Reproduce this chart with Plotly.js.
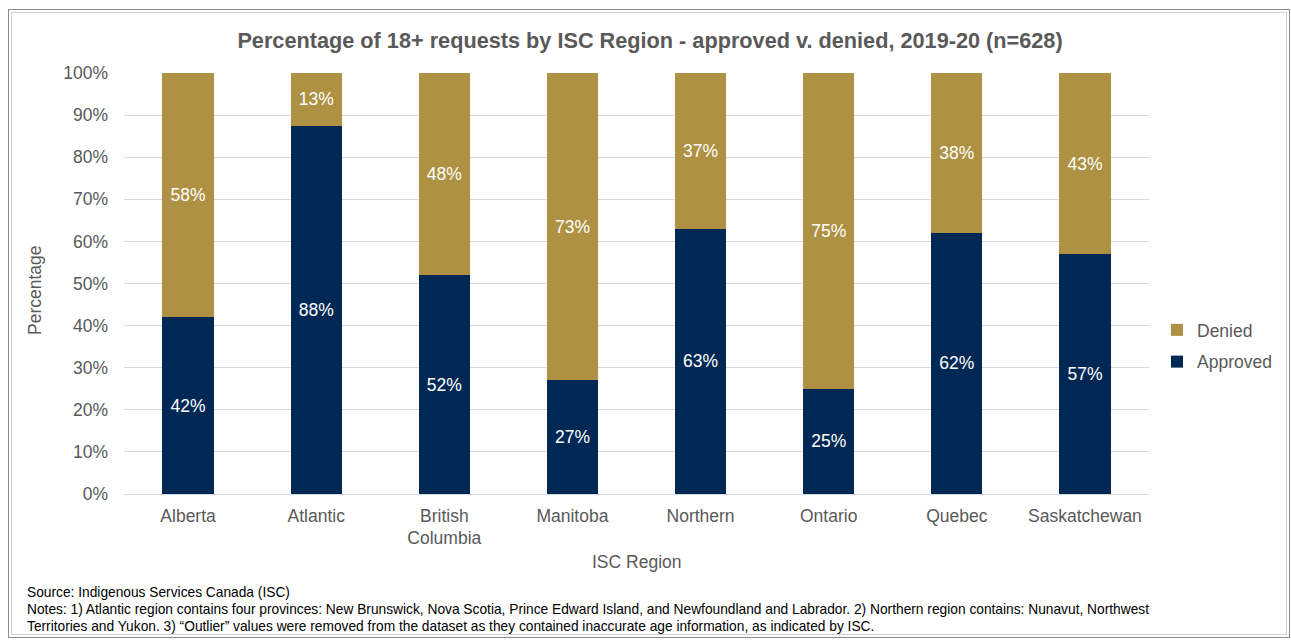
<!DOCTYPE html>
<html>
<head>
<meta charset="utf-8">
<script src="https://cdn.plot.ly/plotly-3.0.1.min.js"></script>
<style>
  html, body { margin: 0; padding: 0; background: #fff; }
  #wrap { position: relative; width: 1291px; height: 640px; }
  #frame1 { position: absolute; left: 8px; top: 9px; width: 1282px; height: 629px; border: 1px solid #8c8c8c; box-sizing: border-box; pointer-events: none; }
  #frame2 { position: absolute; left: 11px; top: 12px; width: 1276px; height: 623px; border: 1px solid #d0d0d0; box-sizing: border-box; pointer-events: none; }
  #chart { position: absolute; left: 0; top: 0; width: 1291px; height: 640px; }
</style>
</head>
<body>
<div id="wrap">
  <div id="chart"></div>
  <div id="frame1"></div>
  <div id="frame2"></div>
</div>
<script>
const regions = ["Alberta", "Atlantic", "British<br>Columbia", "Manitoba", "Northern", "Ontario", "Quebec", "Saskatchewan"];
const approved = [42, 87.5, 52, 27, 63, 25, 62, 57];
const denied = [58, 12.5, 48, 73, 37, 75, 38, 43];
const yTickVals = [0, 10, 20, 30, 40, 50, 60, 70, 80, 90, 100];
const yTickText = ["0%", "10%", "20%", "30%", "40%", "50%", "60%", "70%", "80%", "90%", "100%"];
const titleText = "Percentage of 18+ requests by ISC Region - approved v. denied, 2019-20 (n=628)";
const sourceText = "Source: Indigenous Services Canada (ISC)";
const notesLine1 = "Notes: 1) Atlantic region contains four provinces: New Brunswick, Nova Scotia, Prince Edward Island, and Newfoundland and Labrador. 2) Northern region contains: Nunavut, Northwest";
const notesLine2 = "Territories and Yukon. 3) \u201cOutlier\u201d values were removed from the dataset as they contained inaccurate age information, as indicated by ISC.";

const FONT = "Liberation Sans, Arial, sans-serif";
const GREY = "#595959";
const NAVY = "#002855";
const GOLD = "#ae9142";

const traces = [
  {
    type: "bar", name: "Approved", x: regions, y: approved, legendgroup: "a", legendrank: 2,
    marker: { color: NAVY, line: { width: 0 } },
    text: approved.map(v => Math.round(v) + "%"),
    textposition: "inside", insidetextanchor: "middle",
    textfont: { color: "#ffffff", size: 17.5, family: FONT },
    hoverinfo: "none"
  },
  {
    type: "bar", name: "Denied", x: regions, y: denied, legendgroup: "d", legendrank: 1,
    marker: { color: GOLD, line: { width: 0 } },
    text: denied.map(v => Math.round(v) + "%"),
    textposition: "inside", insidetextanchor: "middle",
    textfont: { color: "#ffffff", size: 17.5, family: FONT },
    hoverinfo: "none"
  }
];

const ppx = y => (494 - y) / 421;   // pixel y -> paper y
const pxx = x => (x - 124) / 1025;  // pixel x -> paper x
const layout = {
  width: 1291, height: 640,
  margin: { l: 124, r: 142, t: 73, b: 146, pad: 0 },
  paper_bgcolor: "#ffffff", plot_bgcolor: "#ffffff",
  barmode: "stack", bargap: 0.6,
  font: { family: FONT, color: GREY, size: 17.5 },
  title: {
    text: "<b>" + titleText + "</b>",
    font: { family: FONT, size: 21.7, color: GREY },
    x: 650 / 1291, xref: "container", xanchor: "center",
    y: 1 - 40 / 640, yanchor: "middle"
  },
  xaxis: {
    type: "category", tickfont: { size: 17.5, color: GREY },
    ticks: "", showgrid: false, showline: false, zeroline: false,
    ticklabelstandoff: 9,
    automargin: false
  },
  yaxis: {
    range: [0, 100], tickvals: yTickVals, ticktext: yTickText,
    tickfont: { size: 17.5, color: GREY },
    showgrid: true, gridcolor: "#d9d9d9", gridwidth: 1,
    zeroline: true, zerolinecolor: "#d9d9d9", zerolinewidth: 1,
    showline: false, ticks: "", ticklabelstandoff: 15,
    automargin: false
  },
  showlegend: true,
  legend: {
    traceorder: "grouped",
    x: pxx(1157), y: ppx(312), yanchor: "top", xanchor: "left",
    font: { size: 17.5, color: GREY }, itemwidth: 30, tracegroupgap: 6,
    bgcolor: "rgba(0,0,0,0)"
  },
  annotations: [
    { text: "Percentage", xref: "paper", yref: "paper", x: pxx(35), y: ppx(290),
      textangle: -90, showarrow: false, xanchor: "center", yanchor: "middle",
      font: { size: 17.5, color: GREY } },
    { text: "ISC Region", xref: "paper", yref: "paper", x: 0.5, y: ppx(562),
      showarrow: false, xanchor: "center", yanchor: "middle",
      font: { size: 17.5, color: GREY } },
    { text: sourceText, xref: "paper", yref: "paper", x: pxx(25), y: ppx(592),
      showarrow: false, xanchor: "left", yanchor: "middle", align: "left",
      font: { size: 13.75, color: "#000000" } },
    { text: notesLine1, xref: "paper", yref: "paper", x: pxx(25), y: ppx(609),
      showarrow: false, xanchor: "left", yanchor: "middle", align: "left",
      font: { size: 13.75, color: "#000000" } },
    { text: notesLine2, xref: "paper", yref: "paper", x: pxx(25), y: ppx(626),
      showarrow: false, xanchor: "left", yanchor: "middle", align: "left",
      font: { size: 13.75, color: "#000000" } }
  ]
};

Plotly.newPlot("chart", traces, layout, { displayModeBar: false, staticPlot: true });
</script>
</body>
</html>
